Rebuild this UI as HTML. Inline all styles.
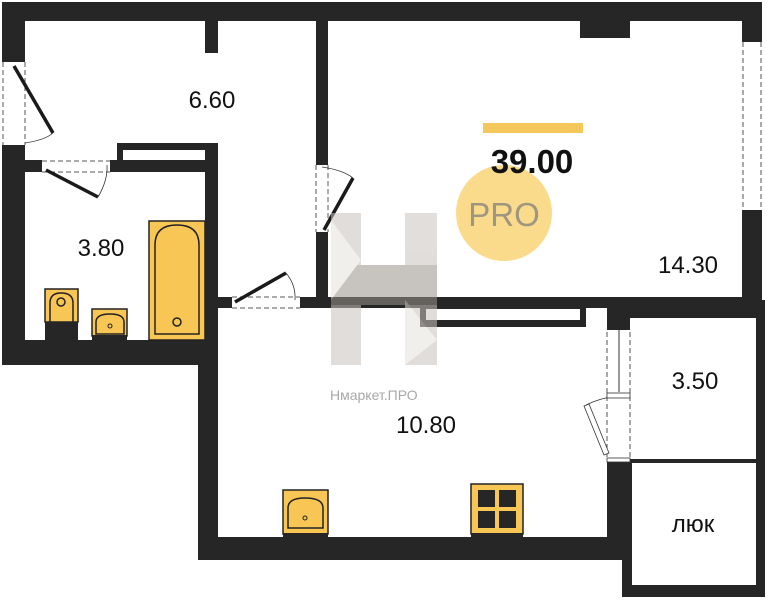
<!DOCTYPE html>
<html><head><meta charset="utf-8"><style>
html,body{margin:0;padding:0;background:#fff;}
svg{display:block;}
text{font-family:"Liberation Sans",sans-serif;}
</style></head><body>
<svg width="767" height="600" viewBox="0 0 767 600" xmlns="http://www.w3.org/2000/svg">
<g fill="#262626">
<rect x="2" y="2" width="760" height="19"/>
<rect x="2" y="2" width="23" height="60"/>
<rect x="2" y="145" width="23" height="220"/>
<rect x="2" y="340" width="216" height="25"/>
<rect x="25" y="160" width="17" height="12"/>
<rect x="110" y="160" width="108" height="12"/>
<rect x="117" y="143" width="101" height="29"/>
<rect x="205" y="143" width="13" height="222"/>
<rect x="205" y="20" width="13" height="33"/>
<rect x="316" y="20" width="12" height="145"/>
<rect x="316" y="232" width="12" height="76"/>
<rect x="580" y="20" width="50" height="18"/>
<rect x="742" y="2" width="20" height="40"/>
<rect x="742" y="210" width="20" height="100"/>
<rect x="218" y="297" width="14" height="11"/>
<rect x="300" y="297" width="462" height="11"/>
<rect x="607" y="297" width="155" height="21"/>
<rect x="607" y="297" width="23" height="33"/>
<rect x="420" y="306" width="166" height="21"/>
<rect x="198" y="340" width="20" height="220"/>
<rect x="198" y="537" width="432" height="23"/>
<rect x="607" y="460" width="25" height="100"/>
<rect x="756" y="300" width="9" height="297"/>
<rect x="622" y="459" width="143" height="4"/>
<rect x="622" y="459" width="10" height="138"/>
<rect x="622" y="585" width="143" height="12"/>
</g>
<rect x="123" y="150" width="82" height="10" fill="#fff"/>
<rect x="426" y="309" width="154" height="11" fill="#fff"/>
<g fill="none" stroke="#555" stroke-width="1" stroke-dasharray="5,3">
<line x1="3" y1="62" x2="3" y2="145"/><line x1="25" y1="62" x2="25" y2="145"/>
<line x1="743" y1="42" x2="743" y2="210"/><line x1="761" y1="42" x2="761" y2="210"/>
<line x1="42" y1="161" x2="110" y2="161"/><line x1="42" y1="172" x2="110" y2="172"/>
<line x1="316" y1="165" x2="316" y2="232"/><line x1="328" y1="165" x2="328" y2="232"/>
<line x1="232" y1="297" x2="300" y2="297"/><line x1="232" y1="308" x2="300" y2="308"/>
<line x1="607" y1="332" x2="607" y2="458"/><line x1="630" y1="332" x2="630" y2="458"/>
</g>
<g stroke="#1a1a1a" stroke-width="3.5" stroke-linecap="butt">
<line x1="14" y1="66" x2="53" y2="133"/>
<line x1="46" y1="170" x2="98" y2="197"/>
<line x1="324" y1="230" x2="353" y2="178"/>
<line x1="235" y1="302" x2="286" y2="273"/>
</g>
<g fill="none" stroke="#333" stroke-width="0.8">
<path d="M25 143 Q45 140 53 133"/>
<path d="M98 197 Q108 180 107 165"/>
<path d="M322 167 Q343 170 353 178"/>
<path d="M286 273 Q296 285 295 300"/>
<path d="M586 405 Q600 398 617 396"/>
</g>
<path d="M584 406 L604 455 L609 453 L589 404 Z" fill="#fff" stroke="#333" stroke-width="0.8"/>
<line x1="619" y1="330" x2="619" y2="392" stroke="#333" stroke-width="1"/>
<rect x="607" y="393" width="23" height="5" fill="#fff" stroke="#333" stroke-width="0.8"/>
<rect x="607" y="458" width="23" height="4" fill="#fff" stroke="#333" stroke-width="0.8"/>
<g stroke="#222" stroke-width="1.5">
<rect x="149" y="221" width="56" height="119" fill="#f8c655"/>
<path d="M155 334 V245 Q155 225 177 225 Q199 225 199 245 V334 Z" fill="#f8c655"/>
<circle cx="177" cy="322" r="4" fill="#f8c655"/>
<rect x="45" y="289" width="33" height="33" fill="#f8c655"/>
<path d="M50 322 V303 Q50 293 61 293 Q73 293 73 303 V322 Z" fill="#f8c655"/>
<circle cx="61" cy="302" r="4" fill="#f8c655"/>
<rect x="92" y="309" width="35" height="27" fill="#f8c655"/>
<path d="M96 334 V322 Q96 314 110 314 Q124 314 124 322 V334 Z" fill="#f8c655"/>
<rect x="283" y="490" width="45" height="44" fill="#f8c655"/>
<path d="M288 528 V508 Q288 498 305 498 Q323 498 323 508 V528 Z" fill="#f8c655"/>
<rect x="471" y="484" width="52" height="50" fill="#f8c655"/>
</g>
<rect x="45" y="322" width="33" height="18" fill="#262626"/>
<rect x="92" y="335" width="35" height="5" fill="#262626"/>
<rect x="283" y="533" width="45" height="5" fill="#262626"/>
<rect x="471" y="533" width="52" height="5" fill="#262626"/>
<circle cx="110" cy="326" r="2" fill="none" stroke="#222"/>
<circle cx="305" cy="518" r="2" fill="none" stroke="#222"/>
<g fill="#262626">
<rect x="478" y="490" width="17" height="17"/><rect x="499" y="490" width="17" height="17"/>
<rect x="478" y="511" width="17" height="17"/><rect x="499" y="511" width="17" height="17"/>
</g>
<g opacity="0.55">
<rect x="331" y="213" width="30" height="152" fill="#c8c3bd"/>
<rect x="405" y="213" width="32" height="152" fill="#c8c3bd"/>
<polygon points="331,265 437,265 437,305 331,305" fill="#9a938b"/>
<polygon points="331,220 361,260 331,300" fill="#e5e2de"/>
<polygon points="405,300 437,340 405,365" fill="#e5e2de"/>
</g>
<text x="330" y="400" font-size="14" fill="#a8a8a8">Нмаркет.ПРО</text>
<rect x="483" y="123" width="100" height="10" fill="#f6c75a"/>
<circle cx="504" cy="213" r="48" fill="#f9d77e" opacity="0.9"/>
<text x="532" y="173" font-size="33" font-weight="bold" text-anchor="middle" fill="#111">39.00</text>
<text x="504" y="226" font-size="33" text-anchor="middle" fill="#a09580">PRO</text>
<g font-size="24" fill="#111" text-anchor="middle">
<text x="212" y="108">6.60</text>
<text x="101" y="256">3.80</text>
<text x="688" y="273">14.30</text>
<text x="695" y="389">3.50</text>
<text x="426" y="433">10.80</text>
<text x="693" y="532">люк</text>
</g>
</svg>
</body></html>
